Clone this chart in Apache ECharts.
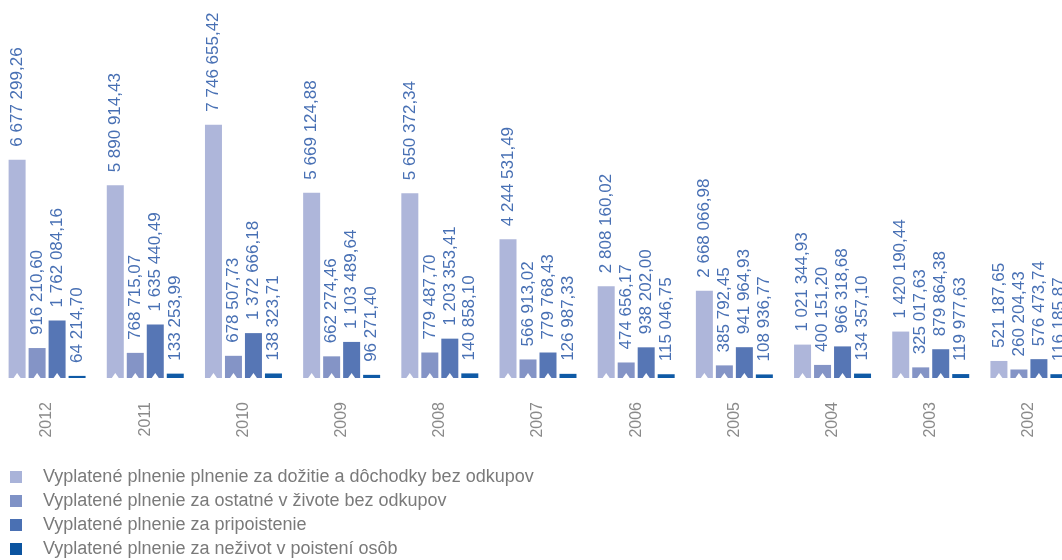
<!DOCTYPE html>
<html>
<head>
<meta charset="utf-8">
<script src="https://cdn.jsdelivr.net/npm/echarts@6/dist/echarts.min.js"></script>
<style>
html,body{margin:0;padding:0;background:#fff;}
#chart{width:1062px;height:560px;}
</style>
</head>
<body>
<div id="chart"></div>
<script>
const years = ['2012','2011','2010','2009','2008','2007','2006','2005','2004','2003','2002'];
const seriesNames = [
  'Vyplatené plnenie plnenie za dožitie a dôchodky bez odkupov',
  'Vyplatené plnenie za ostatné v živote bez odkupov',
  'Vyplatené plnenie za pripoistenie',
  'Vyplatené plnenie za neživot v poistení osôb'
];
const dozitie = [6677299.26, 5890914.43, 7746655.42, 5669124.88, 5650372.34, 4244531.49, 2808160.02, 2668066.98, 1021344.93, 1420190.44, 521187.65];
const ostatne = [916210.60, 768715.07, 678507.73, 662274.46, 779487.70, 566913.02, 474656.17, 385792.45, 400151.20, 325017.63, 260204.43];
const pripoistenie = [1762084.16, 1635440.49, 1372666.18, 1103489.64, 1203353.41, 779768.43, 938202.00, 941964.93, 966318.68, 879864.38, 576473.74];
const nezivot = [64214.70, 133253.99, 138323.71, 96271.40, 140858.10, 126987.33, 115046.75, 108936.77, 134357.10, 119977.63, 116185.87];

const colors = ['#aeb6da', '#8494c6', '#5676b5', '#0f5aa6'];
const legendColors = ['#a9b3d9', '#7f92c6', '#4a70b3', '#0b54a0'];

function fmt(v){
  const parts = v.toFixed(2).split('.');
  const intPart = parts[0].replace(/\B(?=(\d{3})+(?!\d))/g, ' ');
  return intPart + ',' + parts[1];
}

const data = [dozitie, ostatne, pripoistenie, nezivot];
const series = [];
data.forEach((arr, i) => {
  series.push({
    name: seriesNames[i],
    type: 'bar',
    data: arr,
    barWidth: 17,
    barGap: '17.6%',
    itemStyle: {color: colors[i]},
    label: {
      show: true,
      position: 'top',
      rotate: 90,
      align: 'left',
      verticalAlign: 'middle',
      distance: 13,
      fontSize: 17,
      fontFamily: 'Liberation Sans, Arial, sans-serif',
      color: '#4870b4',
      formatter: p => fmt(p.value)
    }
  });
});
// white notches at bar bottoms
data.forEach((arr, i) => {
  series.push({
    type: 'pictorialBar',
    data: arr,
    barWidth: 17,
    barGap: '17.6%',
    symbol: 'triangle',
    symbolSize: [7, 5],
    symbolPosition: 'start',
    symbolRepeat: false,
    itemStyle: {color: '#ffffff', opacity: i < 3 ? 1 : 0},
    z: 5,
    silent: true,
    tooltip: {show: false},
    legendHoverLink: false
  });
});

const chart = echarts.init(document.getElementById('chart'));
chart.setOption({
  animation: false,
  color: legendColors,
  grid: {left: -2, width: 1080, top: 0, bottom: 182, outerBoundsMode: 'none', containLabel: false},
  legend: {
    orient: 'vertical',
    left: 10,
    top: 468,
    padding: 0,
    data: seriesNames.map((n, i) => ({name: n, itemStyle: {color: legendColors[i]}})),
    itemWidth: 12,
    itemHeight: 12,
    itemGap: 6,
    icon: 'rect',
    textStyle: {
      fontSize: 18,
      fontFamily: 'Liberation Sans, Arial, sans-serif',
      color: '#7a7a7a',
      padding: [0, 0, 0, 16]
    }
  },
  xAxis: {
    type: 'category',
    data: years,
    axisLine: {show: false},
    axisTick: {show: false},
    axisLabel: {
      rotate: 90,
      margin: 24,
      fontSize: 16,
      fontFamily: 'Liberation Sans, Arial, sans-serif',
      color: '#8a8a8a'
    }
  },
  yAxis: {
    type: 'value',
    min: 0,
    max: 11560000,
    show: false,
    splitLine: {show: false}
  },
  series: series
});
</script>
</body>
</html>
